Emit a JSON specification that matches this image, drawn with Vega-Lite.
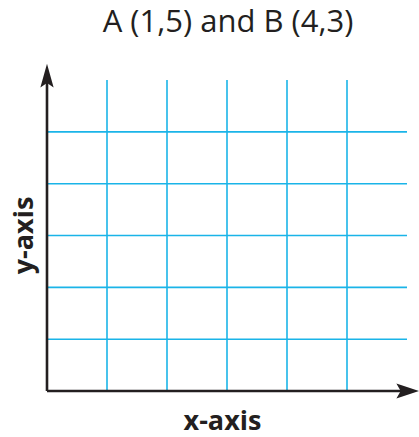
{
  "$schema": "https://vega.github.io/schema/vega-lite/v6.json",
  "width": 372,
  "height": 327,
  "autosize": {"type": "none"},
  "padding": {"left": 47, "top": 64, "right": 0, "bottom": 46},
  "background": "white",
  "title": {
    "text": "A (1,5) and B (4,3)",
    "font": "Open Sans",
    "fontSize": 31,
    "fontWeight": "normal",
    "color": "#231f20",
    "anchor": "middle",
    "baseline": "alphabetic",
    "offset": 1,
    "dx": -5
  },
  "config": {
    "view": {"stroke": null},
    "axis": {
      "domain": false,
      "ticks": false,
      "labels": false,
      "grid": false,
      "titleFont": "Open Sans",
      "titleFontSize": 27,
      "titleFontWeight": "bold",
      "titleColor": "#231f20"
    }
  },
  "datasets": {
    "vlines": [{"x": 1}, {"x": 2}, {"x": 3}, {"x": 4}, {"x": 5}],
    "hlines": [{"y": 1}, {"y": 2}, {"y": 3}, {"y": 4}, {"y": 5}],
    "xaxis": [{"x": 0, "x2": 6.0, "y": 0}],
    "yaxis": [{"x": 0, "y": 0, "y2": 6.08}],
    "xarrow": [{"x": 6.013, "y": 0}],
    "yarrow": [{"x": 0, "y": 6.085}]
  },
  "layer": [
    {
      "data": {"name": "vlines"},
      "mark": {"type": "rule", "color": "#1ab4e8", "strokeWidth": 1.6},
      "encoding": {
        "x": {
          "field": "x",
          "type": "quantitative",
          "scale": {"domain": [0, 6.2], "nice": false, "zero": false},
          "axis": {"title": "x-axis", "titleBaseline": "alphabetic", "titlePadding": 38, "titleX": 175}
        },
        "y": {"datum": 0, "type": "quantitative"},
        "y2": {"datum": 6}
      }
    },
    {
      "data": {"name": "hlines"},
      "mark": {"type": "rule", "color": "#1ab4e8", "strokeWidth": 1.6},
      "encoding": {
        "y": {
          "field": "y",
          "type": "quantitative",
          "scale": {"domain": [0, 6.31], "nice": false, "zero": false},
          "axis": {"title": "y-axis", "titleBaseline": "alphabetic", "titlePadding": 15, "titleY": 171}
        },
        "x": {"datum": 0, "type": "quantitative"},
        "x2": {"datum": 6}
      }
    },
    {
      "data": {"name": "xaxis"},
      "mark": {"type": "rule", "color": "#231f20", "strokeWidth": 2.6},
      "encoding": {
        "x": {"field": "x", "type": "quantitative"},
        "x2": {"field": "x2"},
        "y": {"field": "y", "type": "quantitative"}
      }
    },
    {
      "data": {"name": "yaxis"},
      "mark": {"type": "rule", "color": "#231f20", "strokeWidth": 2.6},
      "encoding": {
        "x": {"field": "x", "type": "quantitative"},
        "y": {"field": "y", "type": "quantitative"},
        "y2": {"field": "y2"}
      }
    },
    {
      "data": {"name": "xarrow"},
      "mark": {"type": "point", "filled": true, "color": "#231f20", "opacity": 1, "size": 520, "shape": "M1,0L-1,-0.66L-0.62,0L-1,0.66Z"},
      "encoding": {
        "x": {"field": "x", "type": "quantitative"},
        "y": {"field": "y", "type": "quantitative"}
      }
    },
    {
      "data": {"name": "yarrow"},
      "mark": {"type": "point", "filled": true, "color": "#231f20", "opacity": 1, "size": 560, "shape": "M0,-1L0.56,1L0,0.62L-0.56,1Z"},
      "encoding": {
        "x": {"field": "x", "type": "quantitative"},
        "y": {"field": "y", "type": "quantitative"}
      }
    }
  ]
}
